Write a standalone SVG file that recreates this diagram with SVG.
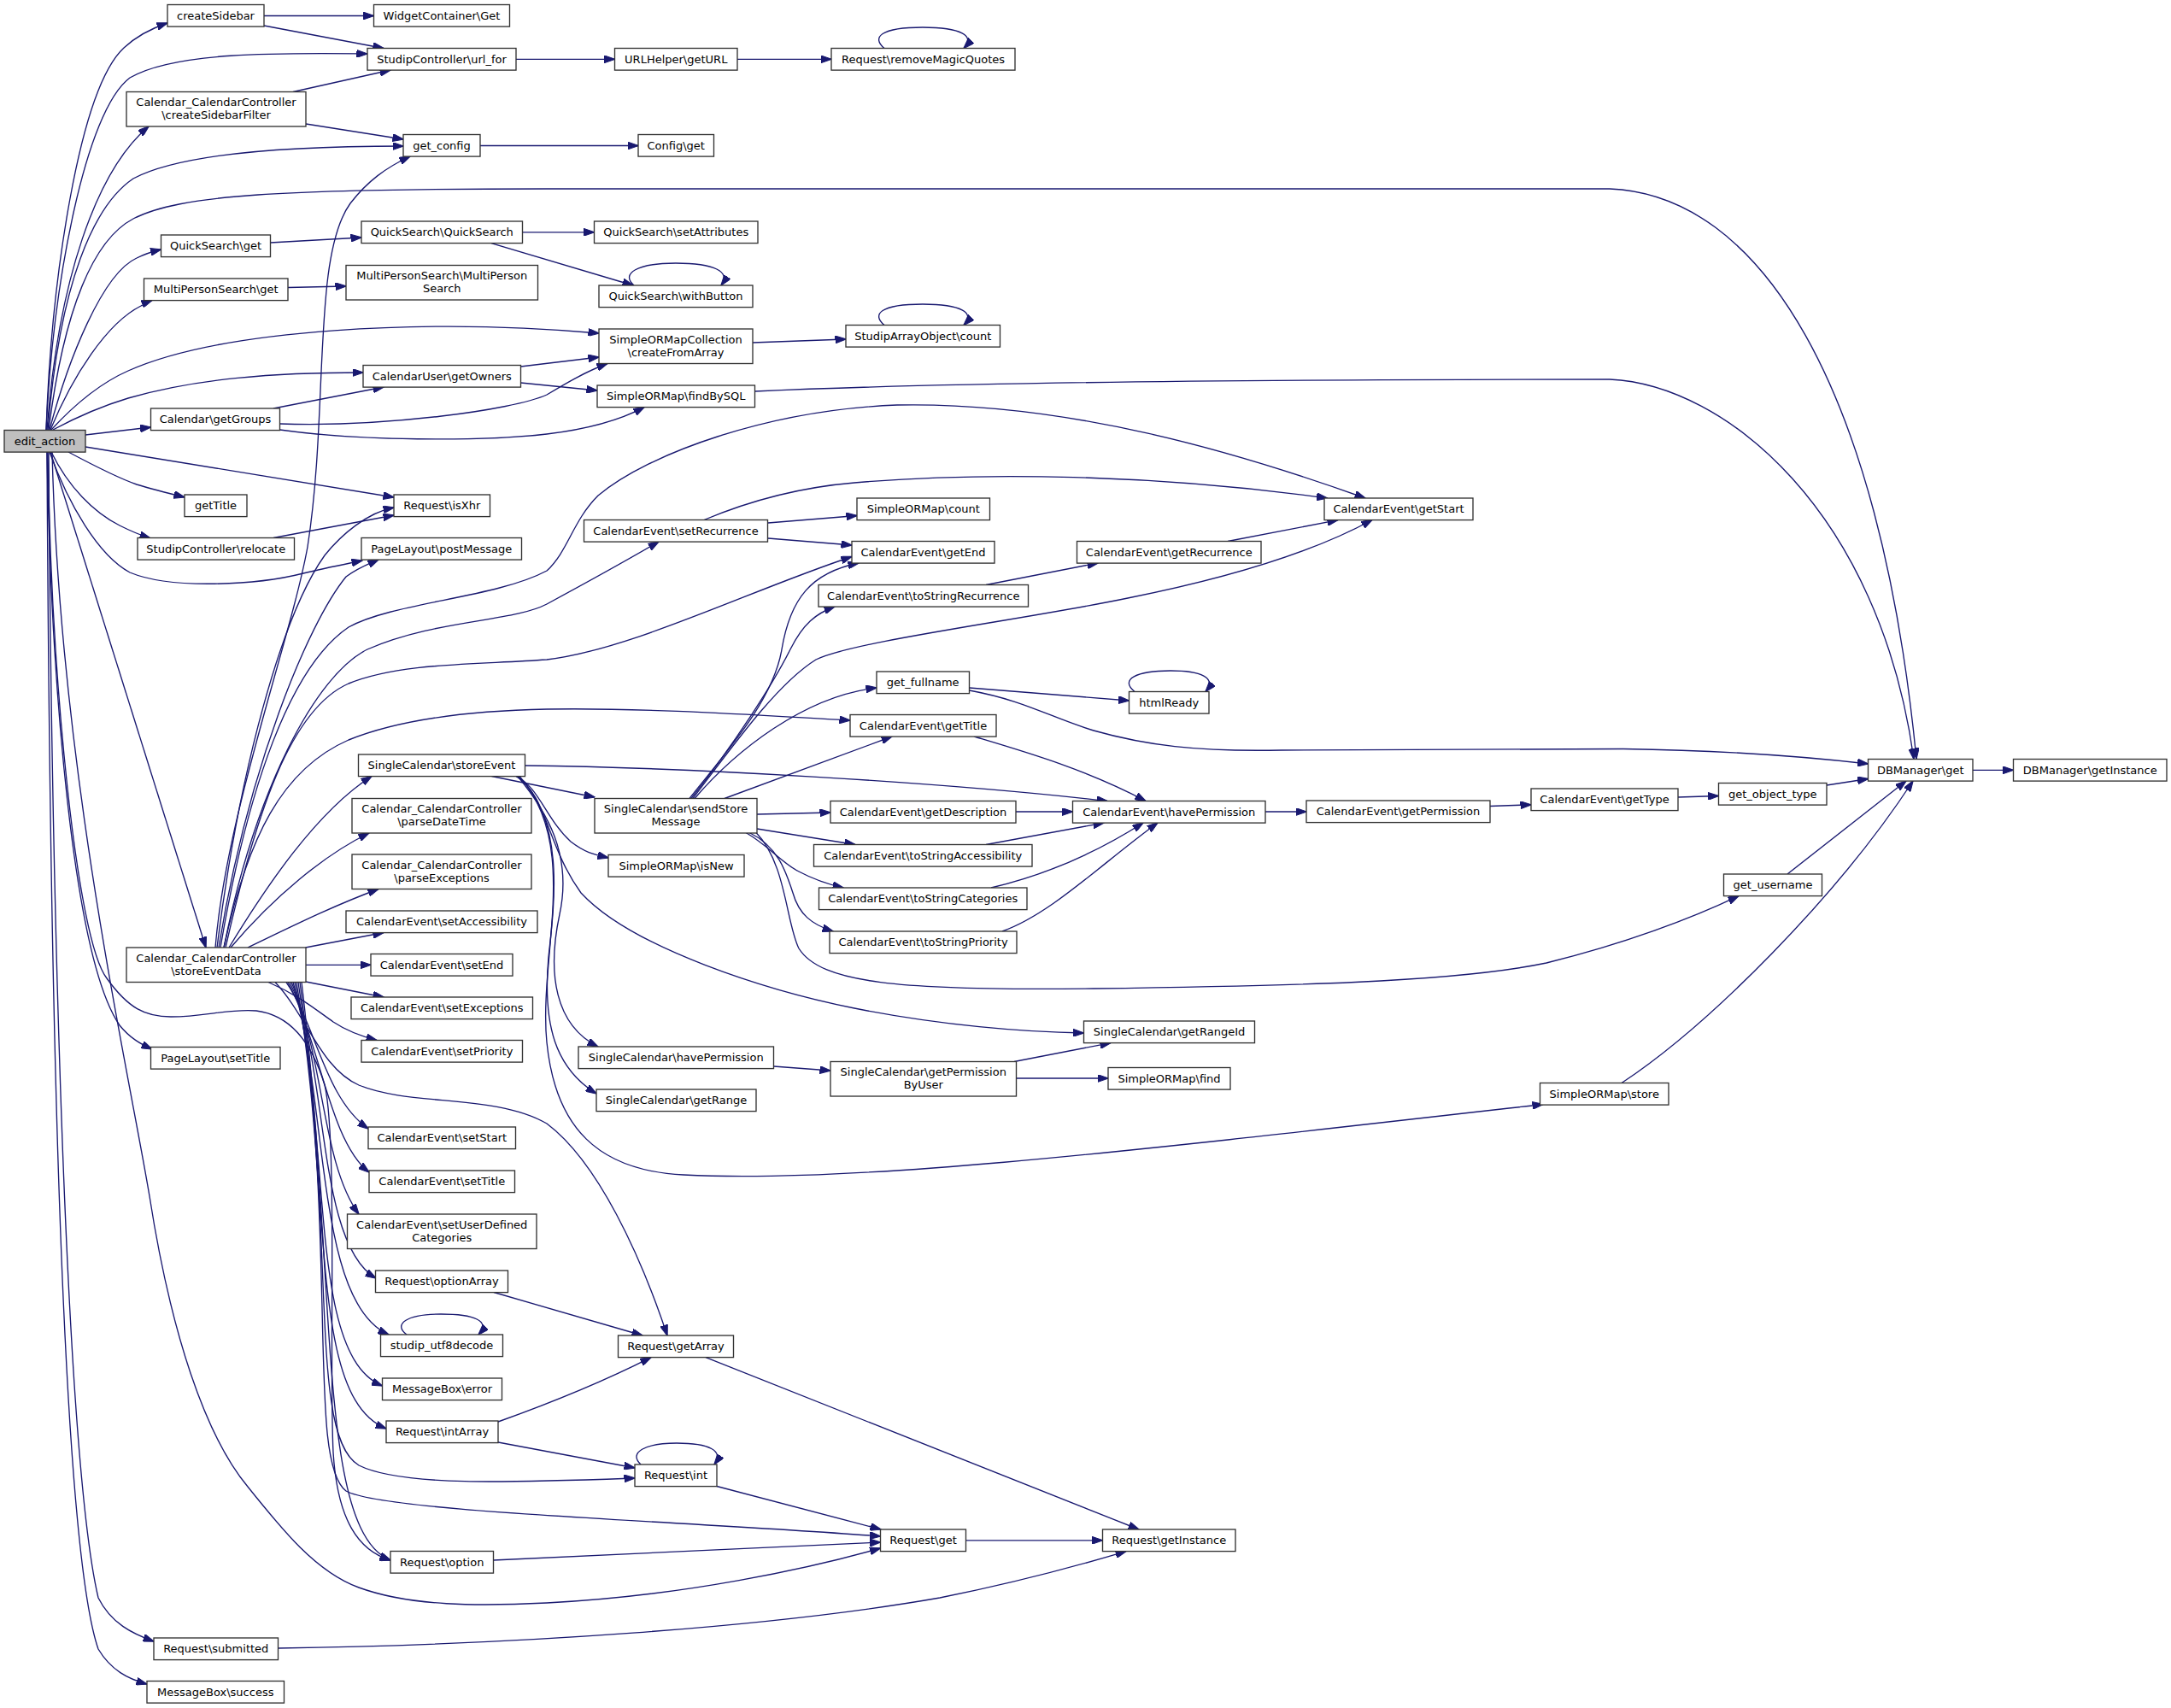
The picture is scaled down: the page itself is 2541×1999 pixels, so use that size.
<svg xmlns="http://www.w3.org/2000/svg" width="2541" height="1999" viewBox="0 0 2541 1999">
<style>
.n rect{fill:#ffffff;stroke:#333333;stroke-width:1.35}
.root rect{fill:#bfbfbf}
.n text{font-family:"DejaVu Sans","Liberation Sans",sans-serif;font-size:13px;fill:#000000;text-anchor:middle}
.e path{fill:none;stroke:#191970;stroke-width:1.35;marker-end:url(#a)}
</style>
<defs>
<marker id="a" viewBox="0 0 13 9" refX="12.5" refY="4.5" markerWidth="13" markerHeight="9" orient="auto" markerUnits="userSpaceOnUse"><path d="M0,0 L13,4.5 L0,9 z" fill="#191970" stroke="#191970" stroke-width="1"/></marker>
</defs>
<rect x="0" y="0" width="2541" height="1999" fill="#ffffff"/>
<g id="edges" class="e">
<path d="M54,503 C 60,330 92,105 145,56 C 160,42 178,33 196,27"/>
<path d="M54,503 C 62,330 100,130 152,91 C 205,60 330,62 430,63"/>
<path d="M55,503 C 68,330 112,200 174,148"/>
<path d="M56,503 C 70,330 110,240 156,209 C 220,175 380,171 472,171"/>
<path d="M57,503 C 75,360 110,280 156,256 C 210,228 330,221 640,221 L 1884,221 C 2060,228 2200,450 2243,888"/>
<path d="M58,503 C 80,420 120,320 160,302 C 170,297 180,294 188.5,292"/>
<path d="M59,503 C 85,440 125,378 165,358 C 170,355 174,353 178,351.5"/>
<path d="M60,503 C 95,465 125,445 150,434 C 260,385 500,372 701,390"/>
<path d="M62,503 C 90,488 120,475 150,466 C 230,443 320,436 425,436"/>
<path d="M100,509 L 176.5,500"/>
<path d="M100,523 L 461,582"/>
<path d="M80,529 C 110,545 140,560 160,567 C 180,573 200,578 216,582"/>
<path d="M60,529 C 80,570 110,600 140,615 C 152,621 163,626 176,630"/>
<path d="M58,529 C 80,590 115,650 152,670 C 200,690 300,685 355,671 C 380,665 405,660 424,656"/>
<path d="M59,529 L 241,1109"/>
<path d="M55,529 C 60,800 85,1120 140,1200 C 152,1215 165,1222 178,1228"/>
<path d="M61,529 C 70,900 150,1250 175,1400 C 200,1560 240,1680 290,1740 C 330,1790 370,1840 420,1858 C 480,1880 560,1880 640,1876 C 800,1868 950,1835 1030.5,1812"/>
<path d="M56,529 C 60,800 90,1100 125,1145 C 150,1180 170,1190 200,1190 C 240,1190 270,1180 300,1183 C 340,1188 365,1220 380,1270 C 395,1330 385,1600 390,1700 C 395,1780 420,1815 457,1826"/>
<path d="M57,529 C 60,1000 75,1700 115,1870 C 130,1900 155,1912 180,1921"/>
<path d="M55,529 C 58,1100 70,1800 115,1930 C 130,1955 150,1965 172,1971"/>
<path d="M309,18.5 L437.5,18.5"/>
<path d="M309,30 L449,56.5"/>
<path d="M343,107.5 L457,82"/>
<path d="M358,145 L472,163"/>
<path d="M604,69.3 L719.5,69.3"/>
<path d="M863,69.3 L973,69.3"/>
<path d="M1035,56.5 C 1020,44 1030,32 1080,32 C 1125,32 1142,42 1128,56.5"/>
<path d="M562,170.5 L747,170.5"/>
<path d="M316.5,284 L423,278"/>
<path d="M611.5,271.8 L695.5,271.8"/>
<path d="M575,284.6 L741,334"/>
<path d="M742,334 C 726,320 746,308 791,308 C 836,308 856,318 844,334"/>
<path d="M337,336.5 L405,335"/>
<path d="M881,401 L990,397"/>
<path d="M1035,380.5 C 1020,368 1030,356 1080,356 C 1125,356 1142,366 1128,380.5"/>
<path d="M609.5,429 L701,418"/>
<path d="M609.5,448 L699,457"/>
<path d="M320,478 L449,453"/>
<path d="M327.5,496 C 450,500 600,480 640,462 C 660,450 685,435 711,425.5"/>
<path d="M327.5,503 C 420,516 560,517 640,508 C 690,502 725,492 754,476.6"/>
<path d="M883.5,458 C 1100,448 1500,444 1884,444 C 2020,450 2200,600 2240,888.5"/>
<path d="M320,629.5 L461,603"/>
<path d="M252,1109 C 265,950 340,750 360,640 C 385,480 365,300 410,238 C 430,212 452,196 480,183"/>
<path d="M254,1109 C 280,900 330,720 380,650 C 400,625 430,600 461,594"/>
<path d="M256,1109 C 290,900 360,730 405,675 C 420,664 432,660 443,655"/>
<path d="M258,1109 C 290,920 340,780 408,734 C 460,705 580,700 640,668 C 665,645 670,610 700,580 C 760,530 900,480 1050,474 C 1250,470 1450,530 1598,583"/>
<path d="M262,1109 C 300,920 370,790 430,760 C 510,725 600,728 640,707 C 690,680 735,655 771,634"/>
<path d="M264,1109 C 300,950 340,830 408,800 C 470,775 560,778 640,772 C 740,760 880,690 997,651.5"/>
<path d="M262,1109 C 290,980 330,900 408,866 C 460,845 540,832 640,830 C 760,828 900,838 995,843"/>
<path d="M268,1109 C 310,1040 370,950 435,908.5"/>
<path d="M270,1109 C 320,1050 380,1000 432,975"/>
<path d="M290,1109 C 340,1085 390,1060 443,1040.5"/>
<path d="M357.5,1109 L449,1091.5"/>
<path d="M358,1129.3 L434,1129.3"/>
<path d="M358,1149 L449,1167"/>
<path d="M314,1149.5 C 350,1165 370,1182 390,1196 C 405,1206 420,1212 441,1217.5"/>
<path d="M322,1149.5 C 360,1190 375,1250 420,1270 C 480,1295 580,1280 640,1315 C 700,1360 750,1470 781,1563"/>
<path d="M335,1149.5 C 370,1200 380,1285 431,1321"/>
<path d="M337,1149.5 C 375,1220 385,1335 432,1372"/>
<path d="M339,1149.5 C 380,1230 375,1360 420,1421"/>
<path d="M341,1149.5 C 385,1250 370,1455 440,1496"/>
<path d="M343,1149.5 C 385,1300 370,1525 455,1562"/>
<path d="M345,1149.5 C 390,1350 360,1585 447.5,1622"/>
<path d="M347,1149.5 C 390,1400 360,1635 452,1672"/>
<path d="M349,1149.5 C 395,1450 360,1680 420,1715 C 470,1740 600,1735 743,1730"/>
<path d="M351,1149.5 C 395,1480 360,1710 405,1745 C 450,1770 800,1780 1030.5,1798"/>
<path d="M353,1149.5 C 395,1500 370,1790 457,1826"/>
<path d="M614.5,896 C 800,898 1100,915 1296,937.5"/>
<path d="M575.5,908.5 L696,933"/>
<path d="M604,908.5 C 630,920 640,960 668,985 C 685,998 695,1000 712,1004"/>
<path d="M604,908.5 C 640,930 640,990 680,1045 C 740,1110 900,1160 1000,1180 C 1100,1200 1200,1208 1268.5,1209"/>
<path d="M606,908.5 C 640,950 670,1000 655,1070 C 640,1140 650,1200 700,1225"/>
<path d="M607,908.5 C 660,960 650,1050 642,1120 C 635,1200 650,1250 698,1280"/>
<path d="M608,908.5 C 680,990 630,1120 640,1220 C 650,1320 700,1370 800,1375 C 1000,1385 1300,1350 1806,1292.5"/>
<path d="M807,934.5 C 850,880 905,820 915,760 C 925,700 950,670 1005,659"/>
<path d="M809,934.5 C 860,870 905,800 925,760 C 940,730 955,718 977,710"/>
<path d="M811,934.5 C 860,870 910,800 955,772 C 1000,750 1200,725 1320,700 C 1420,680 1530,650 1606,608.5"/>
<path d="M813,934.5 C 860,880 940,815 1026,805"/>
<path d="M848,934.5 L1044,862"/>
<path d="M886,953 L972,951"/>
<path d="M886,970 L1001,988.5"/>
<path d="M873,974.5 C 900,990 915,1010 935,1020 C 950,1028 965,1034 987,1039"/>
<path d="M877,974.5 C 910,990 920,1020 928,1045 C 935,1070 950,1082 975,1090"/>
<path d="M885,974.5 C 920,1010 920,1080 935,1110 C 960,1150 1050,1160 1280,1157 C 1500,1154 1700,1150 1810,1127 C 1900,1105 1980,1075 2035,1048.6"/>
<path d="M1140,862 C 1200,880 1270,900 1341,937.5"/>
<path d="M1189,950 L1255.5,950"/>
<path d="M1154,988.5 L1292,963"/>
<path d="M1160,1039 C 1220,1025 1280,1000 1338,963"/>
<path d="M1173,1090 C 1230,1070 1290,1010 1355,963"/>
<path d="M1481,950 L1529,950"/>
<path d="M1744,943.5 L1792,941.8"/>
<path d="M1964,933 L2011.5,931.5"/>
<path d="M2138,919 L2186.5,911.5"/>
<path d="M2092,1023 L2231,914"/>
<path d="M1898,1267.5 C 2000,1200 2150,1050 2239,914"/>
<path d="M2309,901.3 L2356.5,901.3"/>
<path d="M1134.5,805 L1321.5,820"/>
<path d="M1134.5,808 C 1200,820 1230,840 1280,855 C 1340,872 1400,880 1500,878 L 1900,876.5 C 2000,878 2100,884 2186.5,894"/>
<path d="M1328,809.5 C 1310,795 1330,785 1370,785 C 1405,785 1425,793 1411,809.5"/>
<path d="M1154,684.5 L1285,659"/>
<path d="M1437,633.5 L1566,608.6"/>
<path d="M824,608.5 C 880,585 940,570 1000,565 C 1150,552 1350,555 1553.5,583"/>
<path d="M899,612 L1003,603.5"/>
<path d="M899,630 L997,638"/>
<path d="M905.5,1248 L972,1253"/>
<path d="M1187,1242.5 L1300,1220.6"/>
<path d="M1189.5,1262 L1297,1262"/>
<path d="M578,1512.5 L752,1563"/>
<path d="M583,1664 C 650,1640 710,1615 762,1588.6"/>
<path d="M583,1688 L743,1718"/>
<path d="M750,1714 C 735,1700 755,1689 792,1689 C 830,1689 848,1698 836,1714"/>
<path d="M839,1739.5 L1031,1790"/>
<path d="M577.5,1826 L1030.5,1805"/>
<path d="M1130.5,1802.8 L1290.5,1802.8"/>
<path d="M826,1588.6 L1333,1790"/>
<path d="M325.5,1929 C 600,1925 900,1905 1100,1870 C 1200,1850 1270,1830 1318,1815.6"/>
<path d="M476,1562 C 460,1550 475,1538 516,1538 C 555,1538 575,1546 560,1562"/>
</g>
<g id="nodes">
<g id="n_edit_action" class="n root"><rect x="5" y="503.5" width="95" height="25.6"/><text x="52.5" y="520.5">edit_action</text></g>
<g id="n_createSidebar" class="n"><rect x="196" y="5.5" width="113" height="25.6"/><text x="252.5" y="22.5">createSidebar</text></g>
<g id="n_wcget" class="n"><rect x="437.5" y="5.5" width="159" height="25.6"/><text x="517" y="22.5">WidgetContainer\Get</text></g>
<g id="n_urlfor" class="n"><rect x="430" y="56.5" width="174" height="25.6"/><text x="517" y="73.5">StudipController\url_for</text></g>
<g id="n_csfilter" class="n"><rect x="148" y="107.5" width="210" height="40.5"/><text x="253" y="124">Calendar_CalendarController</text><text x="253" y="139">\createSidebarFilter</text></g>
<g id="n_getconfig" class="n"><rect x="472" y="157.5" width="90" height="25.6"/><text x="517" y="174.5">get_config</text></g>
<g id="n_geturl" class="n"><rect x="719.5" y="56.5" width="143.5" height="25.6"/><text x="791.25" y="73.5">URLHelper\getURL</text></g>
<g id="n_rmq" class="n"><rect x="973" y="56.5" width="215" height="25.6"/><text x="1080.5" y="73.5">Request\removeMagicQuotes</text></g>
<g id="n_configget" class="n"><rect x="747" y="157.5" width="88.5" height="25.6"/><text x="791.25" y="174.5">Config\get</text></g>
<g id="n_qsget" class="n"><rect x="188.5" y="275" width="128" height="25.6"/><text x="252.5" y="292">QuickSearch\get</text></g>
<g id="n_qsqs" class="n"><rect x="423" y="259" width="188.5" height="25.6"/><text x="517.25" y="276">QuickSearch\QuickSearch</text></g>
<g id="n_qsattr" class="n"><rect x="695.5" y="259" width="191.5" height="25.6"/><text x="791.25" y="276">QuickSearch\setAttributes</text></g>
<g id="n_qswb" class="n"><rect x="701" y="334" width="180" height="25.6"/><text x="791" y="351">QuickSearch\withButton</text></g>
<g id="n_mpsget" class="n"><rect x="168.5" y="326" width="168.5" height="25.6"/><text x="252.75" y="343">MultiPersonSearch\get</text></g>
<g id="n_mpsmps" class="n"><rect x="405" y="310.5" width="224.5" height="40.5"/><text x="517.25" y="327">MultiPersonSearch\MultiPerson</text><text x="517.25" y="342">Search</text></g>
<g id="n_cfa" class="n"><rect x="701" y="385" width="180" height="40.5"/><text x="791" y="401.5">SimpleORMapCollection</text><text x="791" y="416.5">\createFromArray</text></g>
<g id="n_saocount" class="n"><rect x="990" y="380.5" width="180.5" height="25.6"/><text x="1080.25" y="397.5">StudipArrayObject\count</text></g>
<g id="n_getowners" class="n"><rect x="425" y="427.5" width="184.5" height="25.6"/><text x="517.25" y="444.5">CalendarUser\getOwners</text></g>
<g id="n_findbysql" class="n"><rect x="699" y="451" width="184.5" height="25.6"/><text x="791.25" y="468">SimpleORMap\findBySQL</text></g>
<g id="n_getgroups" class="n"><rect x="176.5" y="478" width="151" height="25.6"/><text x="252" y="495">Calendar\getGroups</text></g>
<g id="n_gettitle" class="n"><rect x="216" y="579" width="73" height="25.6"/><text x="252.5" y="596">getTitle</text></g>
<g id="n_isxhr" class="n"><rect x="461" y="579" width="112.5" height="25.6"/><text x="517.25" y="596">Request\isXhr</text></g>
<g id="n_relocate" class="n"><rect x="161" y="629.5" width="183.5" height="25.6"/><text x="252.75" y="646.5">StudipController\relocate</text></g>
<g id="n_postmsg" class="n"><rect x="423" y="629.5" width="187.5" height="25.6"/><text x="516.75" y="646.5">PageLayout\postMessage</text></g>
<g id="n_setrec" class="n"><rect x="683.5" y="608.5" width="215" height="25.6"/><text x="791" y="625.5">CalendarEvent\setRecurrence</text></g>
<g id="n_socount" class="n"><rect x="1003" y="583" width="155.5" height="25.6"/><text x="1080.75" y="600">SimpleORMap\count</text></g>
<g id="n_getend" class="n"><rect x="997" y="633.5" width="167" height="25.6"/><text x="1080.5" y="650.5">CalendarEvent\getEnd</text></g>
<g id="n_getstart" class="n"><rect x="1550" y="583" width="174" height="25.6"/><text x="1637" y="600">CalendarEvent\getStart</text></g>
<g id="n_getrec" class="n"><rect x="1260.5" y="633.5" width="215.5" height="25.6"/><text x="1368.25" y="650.5">CalendarEvent\getRecurrence</text></g>
<g id="n_tsrec" class="n"><rect x="958" y="684.5" width="245.5" height="25.6"/><text x="1080.75" y="701.5">CalendarEvent\toStringRecurrence</text></g>
<g id="n_getfullname" class="n"><rect x="1026" y="786" width="108.5" height="25.6"/><text x="1080.25" y="803">get_fullname</text></g>
<g id="n_htmlready" class="n"><rect x="1321.5" y="809.5" width="93.5" height="25.6"/><text x="1368.25" y="826.5">htmlReady</text></g>
<g id="n_cegettitle" class="n"><rect x="995" y="836.5" width="171" height="25.6"/><text x="1080.5" y="853.5">CalendarEvent\getTitle</text></g>
<g id="n_storeevent" class="n"><rect x="419.5" y="883" width="195" height="25.6"/><text x="517" y="900">SingleCalendar\storeEvent</text></g>
<g id="n_dbget" class="n"><rect x="2186.5" y="888.5" width="122.5" height="25.6"/><text x="2247.75" y="905.5">DBManager\get</text></g>
<g id="n_dbinst" class="n"><rect x="2356.5" y="888.5" width="179.5" height="25.6"/><text x="2446.25" y="905.5">DBManager\getInstance</text></g>
<g id="n_getobjtype" class="n"><rect x="2011.5" y="916.5" width="126.5" height="25.6"/><text x="2074.75" y="933.5">get_object_type</text></g>
<g id="n_gettype" class="n"><rect x="1792" y="923" width="172" height="25.6"/><text x="1878" y="940">CalendarEvent\getType</text></g>
<g id="n_sendstore" class="n"><rect x="696" y="934.5" width="190" height="40.5"/><text x="791" y="951">SingleCalendar\sendStore</text><text x="791" y="966">Message</text></g>
<g id="n_parsedt" class="n"><rect x="412" y="934.5" width="210" height="40.5"/><text x="517" y="951">Calendar_CalendarController</text><text x="517" y="966">\parseDateTime</text></g>
<g id="n_getdesc" class="n"><rect x="972" y="937.5" width="217" height="25.6"/><text x="1080.5" y="954.5">CalendarEvent\getDescription</text></g>
<g id="n_ceperm" class="n"><rect x="1255.5" y="937.5" width="225.5" height="25.6"/><text x="1368.25" y="954.5">CalendarEvent\havePermission</text></g>
<g id="n_getperm" class="n"><rect x="1529" y="937" width="215" height="25.6"/><text x="1636.5" y="954">CalendarEvent\getPermission</text></g>
<g id="n_tsacc" class="n"><rect x="952.5" y="988.5" width="255.5" height="25.6"/><text x="1080.25" y="1005.5">CalendarEvent\toStringAccessibility</text></g>
<g id="n_parseexc" class="n"><rect x="412" y="1000" width="210" height="40.5"/><text x="517" y="1016.5">Calendar_CalendarController</text><text x="517" y="1031.5">\parseExceptions</text></g>
<g id="n_isnew" class="n"><rect x="712" y="1000.5" width="159" height="25.6"/><text x="791.5" y="1017.5">SimpleORMap\isNew</text></g>
<g id="n_getusername" class="n"><rect x="2017.5" y="1023" width="115" height="25.6"/><text x="2075" y="1040">get_username</text></g>
<g id="n_tscat" class="n"><rect x="958.5" y="1039" width="243.5" height="25.6"/><text x="1080.25" y="1056">CalendarEvent\toStringCategories</text></g>
<g id="n_setacc" class="n"><rect x="405" y="1066" width="224" height="25.6"/><text x="517" y="1083">CalendarEvent\setAccessibility</text></g>
<g id="n_tsprio" class="n"><rect x="971" y="1090" width="219" height="25.6"/><text x="1080.5" y="1107">CalendarEvent\toStringPriority</text></g>
<g id="n_sed" class="n"><rect x="148" y="1109" width="210" height="40.5"/><text x="253" y="1125.5">Calendar_CalendarController</text><text x="253" y="1140.5">\storeEventData</text></g>
<g id="n_setend" class="n"><rect x="434" y="1116.5" width="166" height="25.6"/><text x="517" y="1133.5">CalendarEvent\setEnd</text></g>
<g id="n_setexc" class="n"><rect x="411" y="1167" width="212.5" height="25.6"/><text x="517.25" y="1184">CalendarEvent\setExceptions</text></g>
<g id="n_getrangeid" class="n"><rect x="1268.5" y="1195" width="200" height="25.6"/><text x="1368.5" y="1212">SingleCalendar\getRangeId</text></g>
<g id="n_setprio" class="n"><rect x="423" y="1217.5" width="188.5" height="25.6"/><text x="517.25" y="1234.5">CalendarEvent\setPriority</text></g>
<g id="n_scperm" class="n"><rect x="677" y="1225" width="228.5" height="25.6"/><text x="791.25" y="1242">SingleCalendar\havePermission</text></g>
<g id="n_plsettitle" class="n"><rect x="176.5" y="1225.5" width="151.5" height="25.6"/><text x="252.25" y="1242.5">PageLayout\setTitle</text></g>
<g id="n_permbyuser" class="n"><rect x="972" y="1242.5" width="217.5" height="40.5"/><text x="1080.75" y="1259">SingleCalendar\getPermission</text><text x="1080.75" y="1274">ByUser</text></g>
<g id="n_sofind" class="n"><rect x="1297" y="1249.5" width="143" height="25.6"/><text x="1368.5" y="1266.5">SimpleORMap\find</text></g>
<g id="n_sostore" class="n"><rect x="1802.5" y="1267.5" width="150.5" height="25.6"/><text x="1877.75" y="1284.5">SimpleORMap\store</text></g>
<g id="n_getrange" class="n"><rect x="698" y="1275" width="187" height="25.6"/><text x="791.5" y="1292">SingleCalendar\getRange</text></g>
<g id="n_setstart" class="n"><rect x="431" y="1319" width="172.5" height="25.6"/><text x="517.25" y="1336">CalendarEvent\setStart</text></g>
<g id="n_settitle" class="n"><rect x="432" y="1370" width="170.5" height="25.6"/><text x="517.25" y="1387">CalendarEvent\setTitle</text></g>
<g id="n_setudc" class="n"><rect x="406.5" y="1421" width="221.5" height="40.5"/><text x="517.25" y="1437.5">CalendarEvent\setUserDefined</text><text x="517.25" y="1452.5">Categories</text></g>
<g id="n_optarr" class="n"><rect x="439.5" y="1487" width="155" height="25.6"/><text x="517" y="1504">Request\optionArray</text></g>
<g id="n_utf8" class="n"><rect x="445.5" y="1562" width="143" height="25.6"/><text x="517" y="1579">studip_utf8decode</text></g>
<g id="n_getarray" class="n"><rect x="723.5" y="1563" width="135" height="25.6"/><text x="791" y="1580">Request\getArray</text></g>
<g id="n_mberror" class="n"><rect x="447.5" y="1613" width="140" height="25.6"/><text x="517.5" y="1630">MessageBox\error</text></g>
<g id="n_intarr" class="n"><rect x="452" y="1663" width="131" height="25.6"/><text x="517.5" y="1680">Request\intArray</text></g>
<g id="n_reqint" class="n"><rect x="743" y="1714" width="96" height="25.6"/><text x="791" y="1731">Request\int</text></g>
<g id="n_reqget" class="n"><rect x="1030.5" y="1790" width="100" height="25.6"/><text x="1080.5" y="1807">Request\get</text></g>
<g id="n_reqinst" class="n"><rect x="1290.5" y="1790" width="155.5" height="25.6"/><text x="1368.25" y="1807">Request\getInstance</text></g>
<g id="n_reqopt" class="n"><rect x="457" y="1815.5" width="120.5" height="25.6"/><text x="517.25" y="1832.5">Request\option</text></g>
<g id="n_submitted" class="n"><rect x="180" y="1917" width="145.5" height="25.6"/><text x="252.75" y="1934">Request\submitted</text></g>
<g id="n_success" class="n"><rect x="172" y="1967.5" width="160.5" height="25.6"/><text x="252.25" y="1984.5">MessageBox\success</text></g>
</g>
</svg>
